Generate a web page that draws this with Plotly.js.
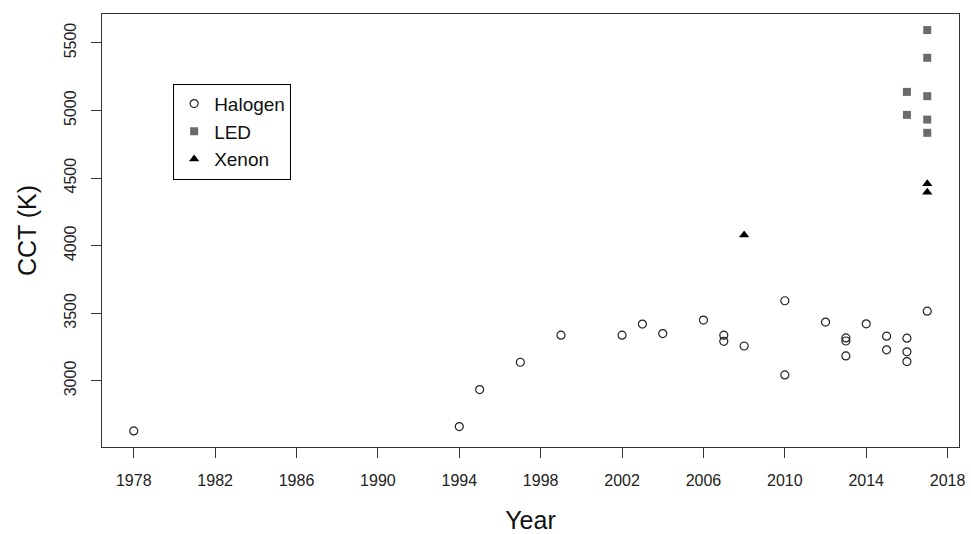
<!DOCTYPE html>
<html>
<head>
<meta charset="utf-8">
<script src="https://cdn.plot.ly/plotly-3.0.1.min.js"></script>
<style>html,body{margin:0;padding:0;background:#fff;}#chart{width:971px;height:534px;}</style>
</head>
<body>
<div id="chart"></div>
<script>
// Data
const halogenYear = [1978, 1994, 1995, 1997, 1999, 2002, 2003, 2004, 2006, 2007, 2007, 2008, 2010, 2010, 2012, 2013, 2013, 2013, 2014, 2015, 2015, 2016, 2016, 2016, 2017];
const halogenCCT  = [2630, 2662, 2936, 3138, 3338, 3338, 3420, 3350, 3450, 3338, 3293, 3258, 3593, 3044, 3435, 3318, 3295, 3185, 3422, 3331, 3230, 3316, 3215, 3143, 3516];
const ledYear = [2016, 2016, 2017, 2017, 2017, 2017, 2017];
const ledCCT  = [5138, 4968, 5595, 5390, 5106, 4933, 4835];
const xenonYear = [2008, 2017, 2017];
const xenonCCT  = [4079, 4459, 4395];
const seriesNames = ["Halogen", "LED", "Xenon"];
const xTicks = [1978, 1982, 1986, 1990, 1994, 1998, 2002, 2006, 2010, 2014, 2018];
const yTicks = [3000, 3500, 4000, 4500, 5000, 5500];

const font = "Liberation Sans, Arial, Helvetica, sans-serif";

const traces = [
  {x: halogenYear, y: halogenCCT, name: seriesNames[0], type: "scatter", mode: "markers",
   marker: {symbol: "circle-open", size: 8, color: "#222", line: {width: 1.2, color: "#222"}}},
  {x: ledYear, y: ledCCT, name: seriesNames[1], type: "scatter", mode: "markers",
   marker: {symbol: "square", size: 8, color: "#6b6b6b"}},
  {x: xenonYear, y: xenonCCT, name: seriesNames[2], type: "scatter", mode: "markers",
   marker: {symbol: "triangle-up", size: 9, color: "#000"}}
];

const layout = {
  width: 971, height: 534,
  margin: {l: 102, r: 12, t: 14, b: 87, pad: 0},
  paper_bgcolor: "#fff", plot_bgcolor: "#fff",
  font: {family: font, color: "#222", size: 16},
  showlegend: true,
  legend: {x: 0.083, y: 0.839, xanchor: "left", yanchor: "top",
           bordercolor: "#000", borderwidth: 1, bgcolor: "#fff",
           font: {family: font, size: 19, color: "#111"},
           itemwidth: 30, tracegroupgap: 0},
  xaxis: {
    range: [1976.44, 2018.56], tickmode: "array", tickvals: xTicks, ticktext: xTicks.map(String),
    ticks: "outside", ticklen: 10, tickwidth: 1, tickcolor: "#333", ticklabelstandoff: 9,
    showline: true, mirror: true, linecolor: "#333", linewidth: 1,
    showgrid: false, zeroline: false,
    tickfont: {family: font, size: 16, color: "#222"},
    title: {text: "Year", font: {family: font, size: 25, color: "#111"}, standoff: 24}
  },
  yaxis: {
    range: [2511, 5714], tickmode: "array", tickvals: yTicks, ticktext: yTicks.map(String),
    ticks: "outside", ticklen: 10, tickwidth: 1, tickcolor: "#333", tickangle: -90, ticklabelstandoff: 9,
    showline: true, mirror: true, linecolor: "#333", linewidth: 1,
    showgrid: false, zeroline: false,
    tickfont: {family: font, size: 16, color: "#222"},
    title: {text: "CCT (K)", font: {family: font, size: 25, color: "#111"}, standoff: 17}
  }
};

Plotly.newPlot("chart", traces, layout, {displayModeBar: false, staticPlot: true});
</script>
</body>
</html>
